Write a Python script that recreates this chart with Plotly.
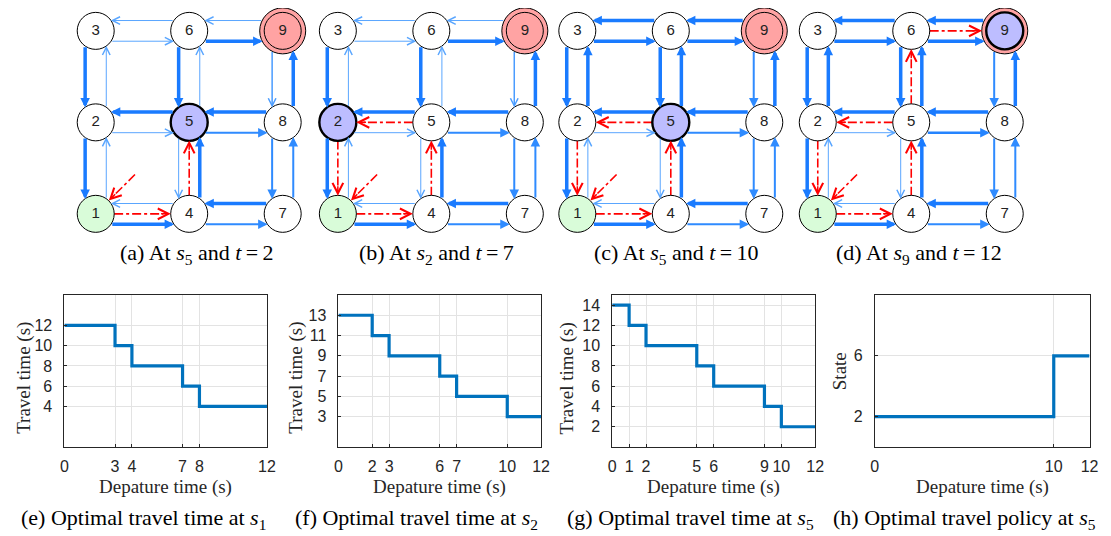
import math
import plotly.graph_objects as go

W, H = 1111, 536
DX, DY = 8, 8  # page margin of the html body

# ---------------- data ----------------
node_ids = [1, 2, 3, 4, 5, 6, 7, 8, 9]
node_col = [0, 0, 0, 1, 1, 1, 2, 2, 2]
node_row = [0, 1, 2, 0, 1, 2, 0, 1, 2]

edge_src = [6, 3, 9, 6, 5, 2, 8, 5, 4, 1, 7, 4, 3, 2, 2, 1, 6, 5, 5, 4, 9, 8, 8, 7]
edge_dst = [3, 6, 6, 9, 2, 5, 5, 8, 1, 4, 4, 7, 2, 3, 1, 2, 5, 6, 4, 5, 8, 9, 7, 8]

level_a = [1, 1, 1, 3, 3, 1, 3, 2, 1, 3, 3, 2, 3, 1, 3, 1, 3, 1, 1, 3, 1.5, 3, 2, 2]
level_b = [1, 1, 1, 3, 3, 1, 3, 2, 1, 3, 3, 2, 3, 1, 3, 1, 3, 1, 1, 3, 1.5, 3, 2, 2]
level_c = [3, 3, 3, 3, 3, 1, 3, 2, 1, 3, 3, 2, 3, 3, 3, 1, 3, 3, 1, 3, 2, 3, 2, 2]
level_d = [3, 3, 3, 3, 3, 1, 3, 2.5, 1, 3, 3, 2, 3, 3, 3, 1, 3, 3, 1, 3, 2, 3, 2, 2]
panel_levels = [level_a, level_b, level_c, level_d]

start_node = 1
goal_node = 9
current_node = [5, 2, 5, 9]
path_a = [(1, 4), (4, 5)]
path_b = [(1, 4), (4, 5), (5, 2), (2, 1)]
path_c = [(1, 4), (4, 5), (5, 2), (2, 1)]
path_d = [(1, 4), (4, 5), (5, 2), (2, 1), (5, 6), (6, 9)]
panel_paths = [path_a, path_b, path_c, path_d]

cap_letters_top = ["a", "b", "c", "d"]
cap_state_top = [5, 2, 5, 9]
cap_time_top = [2, 7, 10, 12]

dep_e = [0, 3, 4, 7, 8, 12]
tt_e = [12, 10, 8, 6, 4, 4]
dep_f = [0, 2, 3, 6, 7, 10, 12]
tt_f = [13, 11, 9, 7, 5, 3, 3]
dep_g = [0, 1, 2, 5, 6, 9, 10, 12]
tt_g = [14, 12, 10, 8, 6, 4, 2, 2]
dep_h = [0, 10, 12]
state_h = [2, 6, 6]

xt_e = [0, 3, 4, 7, 8, 12]
yt_e = [4, 6, 8, 10, 12]
xt_f = [0, 2, 3, 6, 7, 10, 12]
yt_f = [3, 5, 7, 9, 11, 13]
xt_g = [0, 1, 2, 5, 6, 9, 10, 12]
yt_g = [2, 4, 6, 8, 10, 12, 14]
xt_h = [0, 10, 12]
yt_h = [2, 6]

# ---------------- styling / layout ----------------
SPX, SPY = 94.6, 93.65
col0_px = [92.7, 337.7, 580.0, 823.3]
row2_py = 26.0
XR = [-0.3, 2.3]
YR = [-0.25, 2.25]
R_NODE = 0.197
R_RING = 0.243
OFF = 0.113

lvl_width = {1: 1.0, 1.5: 1.5, 2: 2.0, 2.5: 2.6, 3: 3.5}
lvl_color = {1: "#5aa6ff", 1.5: "#4a9cff", 2: "#2f8bff", 2.5: "#2584ff", 3: "#1a7bff"}

SERIF = "Liberation Serif"
SANS = "Liberation Sans"
CAP_SIZE = 22
TITLE_SIZE = 19
TICK_SIZE = 16


def fx(px):
    return (px - DX) / W


def fy(py):
    return 1 - (py - DY) / H


fig = go.Figure()
annotations = []
layout_axes = {}


def pos(n):
    i = node_ids.index(n)
    return node_col[i], node_row[i]


def radius(n):
    return R_RING if n == goal_node else R_NODE


for p in range(4):
    k = p + 1
    xn = "x" if k == 1 else f"x{k}"
    yn = "y" if k == 1 else f"y{k}"
    c0 = col0_px[p]
    left_px = c0 + XR[0] * SPX
    right_px = c0 + XR[1] * SPX
    top_px = row2_py - (YR[1] - 2) * SPY
    bot_px = row2_py + (2 - YR[0]) * SPY
    layout_axes[f"xaxis{k}"] = dict(domain=[fx(left_px), fx(right_px)], range=XR, visible=False,
                                    fixedrange=True, anchor=yn)
    layout_axes[f"yaxis{k}"] = dict(domain=[fy(bot_px), min(1.0, fy(top_px))], range=YR,
                                    visible=False, fixedrange=True, anchor=xn)

    # blue edges
    lv = panel_levels[p]
    for s, d, L in zip(edge_src, edge_dst, lv):
        sx, sy = pos(s)
        dx_, dy_ = pos(d)
        ux, uy = dx_ - sx, dy_ - sy
        ox, oy = uy * OFF, -ux * OFF
        ds = math.sqrt(radius(s) ** 2 - OFF ** 2)
        dd = math.sqrt(radius(d) ** 2 - OFF ** 2)
        tx, ty = sx + ox + ux * ds, sy + oy + uy * ds
        hx, hy = dx_ + ox - ux * dd, dy_ + oy - uy * dd
        w = lvl_width[L]
        if L >= 2:
            head, scale = 2, 1.9
        else:
            head, scale = 5, 1.5
        annotations.append(dict(x=hx, y=hy, ax=tx, ay=ty, xref=xn, yref=yn, axref=xn, ayref=yn,
                                text="", showarrow=True, arrowhead=head, arrowwidth=w,
                                arrowsize=scale / w, arrowcolor=lvl_color[L]))

    # red path
    segs = [((0.42, 0.43), (0.14, 0.145))]
    for s, d in panel_paths[p]:
        sx, sy = pos(s)
        dx_, dy_ = pos(d)
        ux, uy = dx_ - sx, dy_ - sy
        segs.append(((sx + ux * radius(s), sy + uy * radius(s)),
                     (dx_ - ux * radius(d), dy_ - uy * radius(d))))
    for (tx, ty), (hx, hy) in segs:
        L_ = math.hypot(hx - tx, hy - ty)
        ux, uy = (hx - tx) / L_, (hy - ty) / L_
        fig.add_trace(go.Scatter(x=[tx, hx - ux * 0.08], y=[ty, hy - uy * 0.08], mode="lines",
                                 line=dict(color="#ff0000", width=1.6, dash="dashdot"),
                                 xaxis=xn, yaxis=yn, showlegend=False, hoverinfo="skip"))
        annotations.append(dict(x=hx, y=hy, ax=hx - ux * 0.12, ay=hy - uy * 0.12,
                                xref=xn, yref=yn, axref=xn, ayref=yn, text="", showarrow=True,
                                arrowhead=5, arrowwidth=1.5, arrowsize=2.1 / 1.5,
                                arrowcolor="#ff0000"))

    # goal ring
    gx, gy = pos(goal_node)
    fig.add_trace(go.Scatter(x=[gx], y=[gy], mode="markers",
                             marker=dict(size=46, color="#ffa3a3", line=dict(color="#000000", width=1)),
                             xaxis=xn, yaxis=yn, showlegend=False, hoverinfo="skip", cliponaxis=False))
    # nodes
    fills, lws = [], []
    for n in node_ids:
        if n == current_node[p]:
            fills.append("#bdbdff")
            lws.append(2.4)
        elif n == start_node:
            fills.append("#d9fcd9")
            lws.append(1)
        elif n == goal_node:
            fills.append("#ffa3a3")
            lws.append(1)
        else:
            fills.append("#ffffff")
            lws.append(1)
    fig.add_trace(go.Scatter(x=node_col, y=node_row, mode="markers+text",
                             text=[str(n) for n in node_ids], textposition="middle center",
                             textfont=dict(family=SANS, size=15, color="#222222"),
                             marker=dict(size=37, color=fills, line=dict(color="#000000", width=lws)),
                             xaxis=xn, yaxis=yn, showlegend=False, hoverinfo="skip", cliponaxis=False))

# top captions
cap_cx = [195, 438, 680, 926]
for p in range(4):
    annotations.append(dict(
        x=fx(cap_cx[p]), y=fy(254), xref="paper", yref="paper", showarrow=False,
        text=(f"({cap_letters_top[p]}) At <i>s</i><sub>{cap_state_top[p]}</sub> and "
              f"<i>t</i>&#8201;=&#8201;{cap_time_top[p]}"),
        font=dict(family=SERIF, size=CAP_SIZE, color="#000000"), xanchor="center", yanchor="middle"))

# ---------------- bottom plots ----------------
bottom = [
    (dep_e, tt_e, xt_e, yt_e, [0, 15], (61, 266), "Travel time (s)", "(e) Optimal travel time at <i>s</i><sub>1</sub>", 20, 141),
    (dep_f, tt_f, xt_f, yt_f, [0, 15], (338.3, 543.3), "Travel time (s)", "(f) Optimal travel time at <i>s</i><sub>2</sub>", 295, 417),
    (dep_g, tt_g, xt_g, yt_g, [0, 15], (615.3, 820.7), "Travel time (s)", "(g) Optimal travel time at <i>s</i><sub>5</sub>", 570, 695),
    (dep_h, state_h, xt_h, yt_h, [0, 10], (881, 1098.3), "State", "(h) Optimal travel policy at <i>s</i><sub>5</sub>", 845, 972),
]
AX_TOP, AX_BOT = 295, 447
for i, (xs, ys, xt, yt, yr, (l, r), ytitle, cap, ytx, capx) in enumerate(bottom):
    k = 5 + i
    xn, yn = f"x{k}", f"y{k}"
    common = dict(showline=True, mirror=True, linecolor="#262626", linewidth=0.8,
                  showgrid=True, gridcolor="#e3e3e3", gridwidth=1, zeroline=False,
                  ticks="inside", ticklen=3, tickcolor="#262626", fixedrange=True,
                  tickfont=dict(family=SANS, size=TICK_SIZE, color="#262626"))
    layout_axes[f"xaxis{k}"] = dict(common, domain=[fx(l), fx(r)], range=[0, 12], tickvals=xt,
                                    anchor=yn, ticklabelstandoff=5)
    layout_axes[f"yaxis{k}"] = dict(common, domain=[fy(AX_BOT), fy(AX_TOP)], range=yr,
                                    tickvals=yt, anchor=xn, ticklabelstandoff=8)
    fig.add_trace(go.Scatter(x=xs, y=ys, mode="lines", line=dict(color="#0072BD", width=3.2, shape="hv"),
                             xaxis=xn, yaxis=yn, showlegend=False, hoverinfo="skip"))
    annotations.append(dict(x=fx((l + r) / 2), y=fy(487), xref="paper", yref="paper", showarrow=False,
                            text="Depature time (s)", font=dict(family=SERIF, size=TITLE_SIZE, color="#262626"),
                            xanchor="center", yanchor="middle"))
    ycen = 378 if ytitle != "State" else 371
    annotations.append(dict(x=fx(ytx), y=fy(ycen), xref="paper", yref="paper", showarrow=False,
                            text=ytitle, textangle=-90, font=dict(family=SERIF, size=TITLE_SIZE, color="#262626"),
                            xanchor="center", yanchor="middle"))
    annotations.append(dict(x=fx(capx), y=fy(519), xref="paper", yref="paper", showarrow=False,
                            text=cap, font=dict(family=SERIF, size=CAP_SIZE, color="#000000"),
                            xanchor="center", yanchor="middle"))

fig.update_layout(width=W, height=H, margin=dict(l=0, r=0, t=0, b=0),
                  paper_bgcolor="#ffffff", plot_bgcolor="#ffffff",
                  annotations=annotations, **layout_axes)
fig.write_html("out.html")
